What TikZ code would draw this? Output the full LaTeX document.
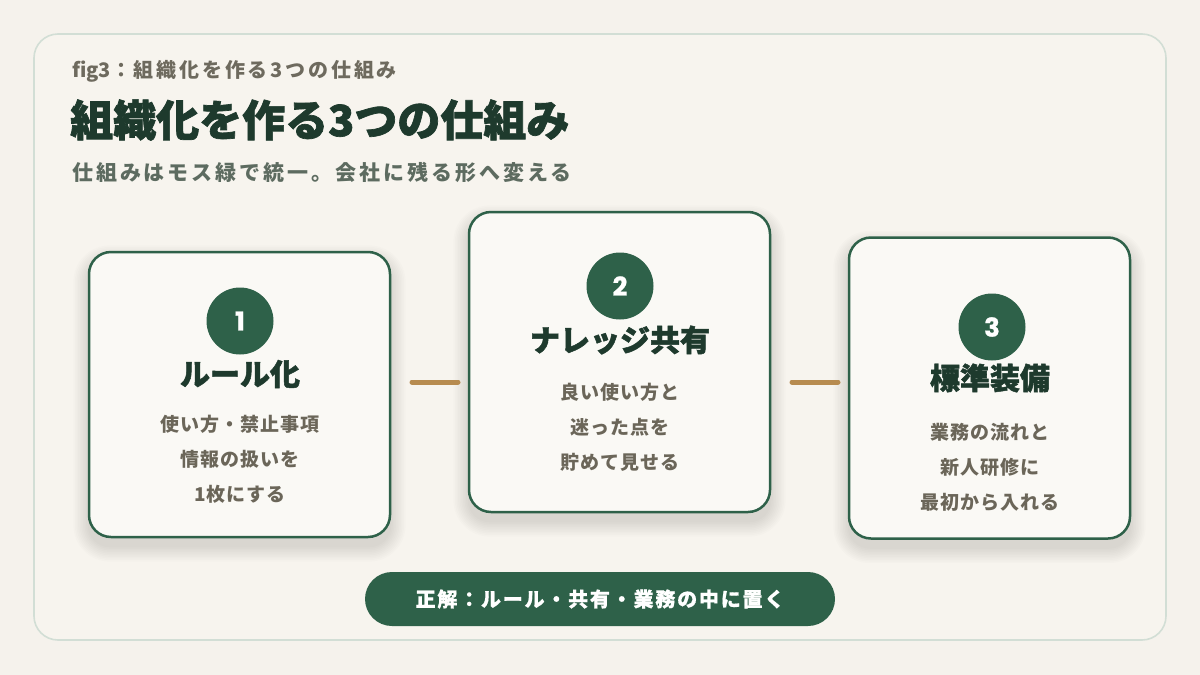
\documentclass[tikz,border=0pt]{standalone}
\usepackage{fontspec}
\newfontfamily\jp{Noto Sans CJK JP}
\newfontfamily\jpheavy{Noto Sans CJK JP}[BoldFeatures={FakeBold=1.6}]
\newfontfamily\jpwide{Noto Sans CJK JP}[LetterSpace=14]
\newfontfamily\jpbody{Noto Sans CJK JP}[LetterSpace=5]
\newfontfamily\jppill{Noto Sans CJK JP}[LetterSpace=9, BoldFeatures={FakeBold=0.6}]
\newfontfamily\numfont{Poppins}[BoldFeatures={FakeBold=0.8}]
\pgfdeclarelayer{back}
\pgfdeclarelayer{shade}
\pgfsetlayers{back,shade,main}
\definecolor{pagebg}{HTML}{F5F2EC}
\definecolor{framebg}{HTML}{F7F4EE}
\definecolor{frameline}{HTML}{D2DED5}
\definecolor{moss}{HTML}{2E6149}
\definecolor{ink}{HTML}{1E3A2D}
\definecolor{tagtext}{HTML}{6E6A5E}
\definecolor{subtext}{HTML}{5D6B60}
\definecolor{bodytext}{HTML}{6B6659}
\definecolor{cardbg}{HTML}{FAF9F5}
\definecolor{tan}{HTML}{B78B4F}
% soft shadow under a card node
\newcommand\cardshadow[1]{%
  \foreach \s in {0,...,9}{%
    \pgfmathsetmacro\d{\s*1.6}%
    \pgfmathsetmacro\r{22+\s*1.6}%
    \fill[black, opacity=0.01, rounded corners=\r pt]
      ([shift={(-\d pt,\d pt-9pt)}]#1.north west) rectangle ([shift={(\d pt,-\d pt-9pt)}]#1.south east);}}

\begin{document}
\begin{tikzpicture}[x=1pt, y=-1pt,
  card/.style={draw=moss, line width=2.5pt, fill=cardbg, rounded corners=22pt},
  badge/.style={circle, fill=moss, minimum size=67pt, inner sep=0pt, text=white,
    font=\numfont\bfseries\fontsize{26}{26}\selectfont},
  head/.style={text=ink, inner sep=0pt, font=\jpheavy\bfseries\fontsize{30}{30}\selectfont},
  body/.style={text=bodytext, inner sep=0pt, align=center, font=\jpbody\bfseries\fontsize{19}{35}\selectfont},
  link/.style={draw=tan, line width=5pt, line cap=round}]
  \useasboundingbox (0,0) rectangle (1200,675);
  \begin{pgfonlayer}{back}
    \fill[pagebg] (0,0) rectangle (1200,675);
    % Outer frame
    \draw[frameline, fill=framebg, line width=1.6pt, rounded corners=24pt] (34,34) rectangle (1166,640);
  \end{pgfonlayer}
  % Heading
  \node[anchor=west, inner sep=0pt, text=tagtext, font=\jp\bfseries\fontsize{20}{20}\selectfont] (figtag) at (72,71) {fig3{\jpwide：組織化を作る3つの仕組み}};
  \node[anchor=west, inner sep=0pt, text=ink, font=\jpheavy\bfseries\fontsize{43}{43}\selectfont] (title) at (70,120) {組織化を作る3つの仕組み};
  \node[anchor=west, inner sep=0pt, text=subtext, font=\jpwide\bfseries\fontsize{21}{21}\selectfont] (subtitle) at (72,172) {仕組みはモス緑で統一。会社に残る形へ変える};
  % Card 1
  \node[card, minimum width=301pt, minimum height=285pt] (card1) at (239.5,394.5) {};
  \node[badge] (badge1) at (240,321) {1};
  \node[head] (head1) at (240,374) {ルール化};
  \node[body] (body1) at (240,459) {使い方・禁止事項\\情報の扱いを\\1枚にする};
  % Card 2
  \node[card, minimum width=301pt, minimum height=300pt] (card2) at (619.5,362) {};
  \node[badge] (badge2) at (620,286) {2};
  \node[head] (head2) at (620,340) {ナレッジ共有};
  \node[body] (body2) at (620,427) {良い使い方と\\迷った点を\\貯めて見せる};
  % Card 3
  \node[card, minimum width=281pt, minimum height=301pt] (card3) at (989.5,388) {};
  \node[badge] (badge3) at (992,327) {3};
  \node[head] (head3) at (990,378) {標準装備};
  \node[body] (body3) at (990,467) {業務の流れと\\新人研修に\\最初から入れる};
  \begin{pgfonlayer}{shade}
    \cardshadow{card1}
    \cardshadow{card2}
    \cardshadow{card3}
  \end{pgfonlayer}
  % Links between cards
  \coordinate (link1a) at (412,382);
  \coordinate (link1b) at (458,382);
  \coordinate (link2a) at (792,382);
  \coordinate (link2b) at (838,382);
  \draw[link] (link1a) -- (link1b);
  \draw[link] (link2a) -- (link2b);
  % Answer pill
  \node[fill=moss, rounded corners=27pt, minimum width=470pt, minimum height=54pt, inner sep=0pt,
    text=white, font=\jppill\bfseries\fontsize{20}{20}\selectfont] (answer) at (600,599) {正解：ルール・共有・業務の中に置く};
\end{tikzpicture}
\end{document}
